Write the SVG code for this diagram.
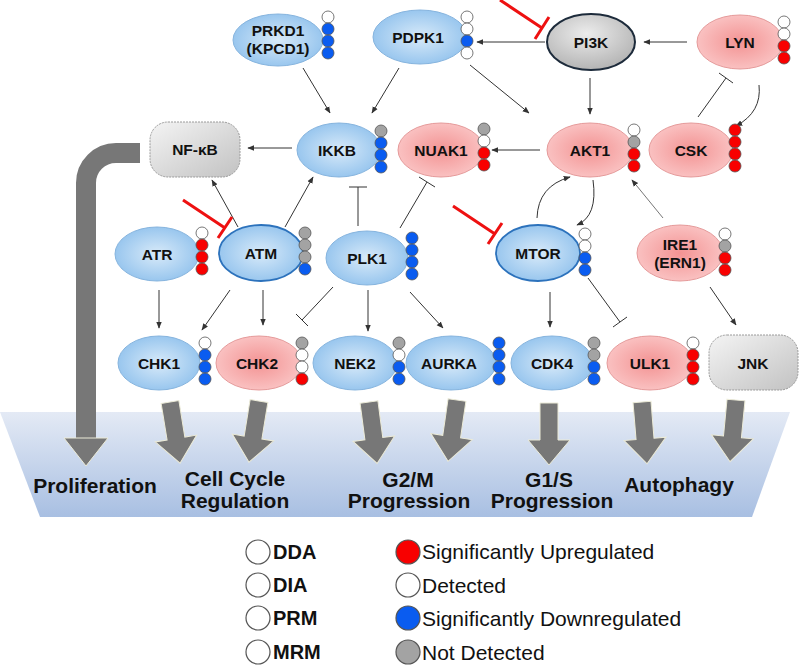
<svg xmlns="http://www.w3.org/2000/svg" xmlns:xlink="http://www.w3.org/1999/xlink" width="800" height="665" viewBox="0 0 800 665">
<defs>
<radialGradient id="gBlue" cx="50%" cy="50%" r="60%"><stop offset="0" stop-color="#d8eaf9"/><stop offset="1" stop-color="#8cbfec"/></radialGradient>
<radialGradient id="gRed" cx="50%" cy="50%" r="60%"><stop offset="0" stop-color="#f39393"/><stop offset="1" stop-color="#fbcaca"/></radialGradient>
<radialGradient id="gGray" cx="45%" cy="35%" r="65%"><stop offset="0" stop-color="#ececec"/><stop offset="1" stop-color="#b4b4b4"/></radialGradient>
<linearGradient id="gBox" x1="0" y1="0" x2="1" y2="1"><stop offset="0" stop-color="#f4f4f4"/><stop offset="1" stop-color="#c2c2c2"/></linearGradient>
<linearGradient id="gBand" x1="0" y1="0" x2="0" y2="1"><stop offset="0" stop-color="#e4eaf5"/><stop offset="1" stop-color="#a8bfe2"/></linearGradient>
<marker id="ah" viewBox="0 0 10 10" refX="9" refY="5" markerWidth="7" markerHeight="7" orient="auto" markerUnits="userSpaceOnUse"><path d="M0,1 L10,5 L0,9 Z" fill="#333"/></marker>
<path id="blk" d="M-9,0 L9,0 L9,37 L21,37 L0,62 L-21,37 L-9,37 Z"/>
</defs>
<style>
.nb{fill:url(#gBlue);stroke:#86b4de;stroke-width:1}
.nbs{fill:url(#gBlue);stroke:#2c72bc;stroke-width:1.8}
.nr{fill:url(#gRed);stroke:#e59a9a;stroke-width:1}
.box{fill:url(#gBox);stroke:#9a9a9a;stroke-width:1;stroke-dasharray:2 1}
.lbl{font-family:"Liberation Sans",Arial,sans-serif;font-weight:bold;font-size:15.5px;fill:#111;text-anchor:middle}
.d{stroke:#555;stroke-width:0.8}
.w{fill:#fff}.r{fill:#f80000}.b{fill:#0a5cf0}.g{fill:#a3a3a3}
.ar{stroke:#333;stroke-width:1;fill:none;marker-end:url(#ah)}
.inh{stroke:#333;stroke-width:1;fill:none}
.red{stroke:#ee1111;stroke-width:3;fill:none}
.blka{fill:#777;stroke:#ecebd8;stroke-width:1}
.out{font-family:"Liberation Sans",Arial,sans-serif;font-weight:bold;font-size:21px;fill:#111;text-anchor:middle}
.lg1{font-family:"Liberation Sans",Arial,sans-serif;font-weight:bold;font-size:20px;fill:#111}
.lg2{font-family:"Liberation Sans",Arial,sans-serif;font-size:21px;fill:#111}
.lc{stroke:#555;stroke-width:1.2}
</style>

<!-- band -->
<polygon points="0,412 790,412 752,517 40,517" fill="url(#gBand)"/>

<!-- proliferation arrow -->
<g id="prolif-arrow">
<path d="M140,153 H116 A30,30 0 0 0 86,183 V440" fill="none" stroke="#777" stroke-width="20"/>
<polygon points="64,438 108,438 86,466" class="blka"/>
</g>

<!-- block arrows -->
<g id="outcome-arrows">
<use xlink:href="#blk" class="blka" transform="translate(170,402) rotate(-9.3)"/>
<use xlink:href="#blk" class="blka" transform="translate(259,401) rotate(9.3)"/>
<use xlink:href="#blk" class="blka" transform="translate(369,402) rotate(-7.5)"/>
<use xlink:href="#blk" class="blka" transform="translate(457,400) rotate(8.3)"/>
<use xlink:href="#blk" class="blka" transform="translate(549,403)"/>
<use xlink:href="#blk" class="blka" transform="translate(642,402) rotate(-4.7)"/>
<use xlink:href="#blk" class="blka" transform="translate(736,400) rotate(5.5)"/>
</g>

<g id="outcome-labels">
<text class="out" x="95" y="493">Proliferation</text>
<text class="out" x="235" y="486">Cell Cycle</text>
<text class="out" x="235" y="508">Regulation</text>
<text class="out" x="408" y="487">G2/M</text>
<text class="out" x="409" y="508">Progression</text>
<text class="out" x="549" y="487">G1/S</text>
<text class="out" x="552" y="508">Progression</text>
<text class="out" x="679" y="492">Autophagy</text>
</g>

<!-- connectors -->
<g id="connectors">
<line class="ar" x1="303" y1="68" x2="330" y2="113"/>
<line class="ar" x1="399" y1="68" x2="372" y2="113"/>
<line class="ar" x1="470" y1="65" x2="529" y2="113"/>
<line class="ar" x1="545" y1="42" x2="477" y2="42"/>
<line class="ar" x1="687" y1="42" x2="644" y2="42"/>
<line class="ar" x1="590" y1="78" x2="590" y2="114"/>
<path class="ar" d="M759,85 Q762,112 736,126"/>
<line class="ar" x1="540" y1="150" x2="492" y2="150"/>
<line class="ar" x1="292" y1="148" x2="248" y2="148"/>
<line class="ar" x1="238" y1="227" x2="212" y2="180"/>
<line class="ar" x1="285" y1="227" x2="313" y2="177"/>
<path class="ar" d="M537,218 Q538,186 570,177"/>
<path class="ar" d="M593,180 Q598,216 577,225"/>
<line class="ar" x1="663" y1="218" x2="632" y2="180" style="stroke:#777"/>
<line class="ar" x1="159" y1="290" x2="159" y2="328"/>
<line class="ar" x1="230" y1="290" x2="202" y2="330"/>
<line class="ar" x1="263" y1="290" x2="263" y2="325"/>
<line class="ar" x1="368" y1="290" x2="368" y2="331"/>
<line class="ar" x1="410" y1="292" x2="443" y2="328"/>
<line class="ar" x1="550" y1="292" x2="550" y2="327"/>
<line class="ar" x1="710" y1="287" x2="736" y2="325"/>
<!-- inhibitions -->
<path class="inh" d="M698,117 L726,78 M719,73 L733,83"/>
<path class="inh" d="M358,226 L358,187 M349,187 L367,187"/>
<path class="inh" d="M400,228 L427,182 M419,177 L435,187"/>
<path class="inh" d="M333,287 L302,320 M296,314 L308,326"/>
<path class="inh" d="M588,278 L620,322 M613,327 L627,317"/>
<path class="red" d="M500,0 L542,28 M535,39 L549,17"/>
<path class="red" d="M183,200 L225,228 M218,238 L232,217"/>
<path class="red" d="M453,206 L495,234 M488,244 L502,223"/>
</g>

<!-- nodes -->
<g id="PRKD1"><ellipse class="nb" cx="278" cy="40" rx="45" ry="26"/><text class="lbl" x="278" y="36">PRKD1</text><text class="lbl" x="278" y="54">(KPCD1)</text>
<circle class="d w" cx="328" cy="17" r="6"/><circle class="d b" cx="328" cy="29" r="6"/><circle class="d b" cx="328" cy="41" r="6"/><circle class="d b" cx="328" cy="53" r="6"/></g>

<g id="PDPK1"><ellipse class="nb" cx="420" cy="37" rx="47" ry="27"/><text class="lbl" x="418" y="43">PDPK1</text>
<circle class="d w" cx="467" cy="17" r="6"/><circle class="d w" cx="467" cy="29" r="6"/><circle class="d b" cx="467" cy="41" r="6"/><circle class="d w" cx="467" cy="53" r="6"/></g>

<g id="PI3K"><ellipse cx="591" cy="42" rx="44" ry="28" fill="url(#gGray)" stroke="#1d2b3b" stroke-width="2"/><text class="lbl" x="591" y="48">PI3K</text></g>

<g id="LYN"><ellipse class="nr" cx="740" cy="42" rx="43" ry="27"/><text class="lbl" x="740" y="48">LYN</text>
<circle class="d w" cx="784" cy="22" r="6"/><circle class="d w" cx="784" cy="34" r="6"/><circle class="d r" cx="784" cy="46" r="6"/><circle class="d r" cx="784" cy="58" r="6"/></g>

<g id="NFKB"><rect class="box" x="150" y="122" width="90" height="55" rx="18"/><text class="lbl" x="195" y="155">NF-κB</text></g>

<g id="IKKB"><ellipse class="nb" cx="339" cy="150" rx="42" ry="27"/><text class="lbl" x="337" y="156">IKKB</text>
<circle class="d g" cx="381" cy="131" r="6"/><circle class="d b" cx="381" cy="143" r="6"/><circle class="d b" cx="381" cy="155" r="6"/><circle class="d b" cx="381" cy="167" r="6"/></g>

<g id="NUAK1"><ellipse class="nr" cx="441" cy="150" rx="43" ry="27"/><text class="lbl" x="441" y="156">NUAK1</text>
<circle class="d g" cx="484" cy="129" r="6"/><circle class="d w" cx="484" cy="141" r="6"/><circle class="d r" cx="484" cy="153" r="6"/><circle class="d r" cx="484" cy="165" r="6"/></g>

<g id="AKT1"><ellipse class="nr" cx="590" cy="150" rx="43" ry="27"/><text class="lbl" x="590" y="156">AKT1</text>
<circle class="d w" cx="634" cy="130" r="6"/><circle class="d g" cx="634" cy="142" r="6"/><circle class="d r" cx="634" cy="154" r="6"/><circle class="d r" cx="634" cy="166" r="6"/></g>

<g id="CSK"><ellipse class="nr" cx="691" cy="150" rx="42" ry="27"/><text class="lbl" x="691" y="156">CSK</text>
<circle class="d r" cx="735" cy="130" r="6"/><circle class="d r" cx="735" cy="142" r="6"/><circle class="d r" cx="735" cy="154" r="6"/><circle class="d r" cx="735" cy="166" r="6"/></g>

<g id="ATR"><ellipse class="nb" cx="157" cy="254" rx="42" ry="27"/><text class="lbl" x="157" y="260">ATR</text>
<circle class="d w" cx="202" cy="233" r="6"/><circle class="d r" cx="202" cy="245" r="6"/><circle class="d r" cx="202" cy="257" r="6"/><circle class="d r" cx="202" cy="269" r="6"/></g>

<g id="ATM"><ellipse class="nbs" cx="261" cy="253" rx="42" ry="28"/><text class="lbl" x="261" y="259">ATM</text>
<circle class="d g" cx="305" cy="233" r="6"/><circle class="d g" cx="305" cy="245" r="6"/><circle class="d g" cx="305" cy="257" r="6"/><circle class="d b" cx="305" cy="269" r="6"/></g>

<g id="PLK1"><ellipse class="nb" cx="367" cy="258" rx="41" ry="27"/><text class="lbl" x="367" y="264">PLK1</text>
<circle class="d b" cx="412" cy="238" r="6"/><circle class="d b" cx="412" cy="250" r="6"/><circle class="d b" cx="412" cy="262" r="6"/><circle class="d b" cx="412" cy="274" r="6"/></g>

<g id="MTOR"><ellipse class="nbs" cx="538" cy="253" rx="42" ry="28"/><text class="lbl" x="538" y="259">MTOR</text>
<circle class="d w" cx="585" cy="234" r="6"/><circle class="d w" cx="585" cy="246" r="6"/><circle class="d b" cx="585" cy="258" r="6"/><circle class="d b" cx="585" cy="270" r="6"/></g>

<g id="IRE1"><ellipse class="nr" cx="680" cy="253" rx="43" ry="28"/><text class="lbl" x="680" y="250">IRE1</text><text class="lbl" x="680" y="268">(ERN1)</text>
<circle class="d w" cx="725" cy="234" r="6"/><circle class="d g" cx="725" cy="246" r="6"/><circle class="d r" cx="725" cy="258" r="6"/><circle class="d r" cx="725" cy="270" r="6"/></g>

<g id="CHK1"><ellipse class="nb" cx="159" cy="363" rx="41" ry="27"/><text class="lbl" x="159" y="369">CHK1</text>
<circle class="d w" cx="205" cy="343" r="6"/><circle class="d b" cx="205" cy="355" r="6"/><circle class="d b" cx="205" cy="367" r="6"/><circle class="d b" cx="205" cy="379" r="6"/></g>

<g id="CHK2"><ellipse class="nr" cx="259" cy="363" rx="43" ry="27"/><text class="lbl" x="257" y="369">CHK2</text>
<circle class="d g" cx="302" cy="343" r="6"/><circle class="d w" cx="302" cy="355" r="6"/><circle class="d w" cx="302" cy="367" r="6"/><circle class="d r" cx="302" cy="379" r="6"/></g>

<g id="NEK2"><ellipse class="nb" cx="355" cy="363" rx="42" ry="27"/><text class="lbl" x="355" y="369">NEK2</text>
<circle class="d g" cx="399" cy="343" r="6"/><circle class="d w" cx="399" cy="355" r="6"/><circle class="d b" cx="399" cy="367" r="6"/><circle class="d b" cx="399" cy="379" r="6"/></g>

<g id="AURKA"><ellipse class="nb" cx="451" cy="363" rx="45" ry="27"/><text class="lbl" x="449" y="369">AURKA</text>
<circle class="d b" cx="499" cy="343" r="6"/><circle class="d b" cx="499" cy="355" r="6"/><circle class="d b" cx="499" cy="367" r="6"/><circle class="d b" cx="499" cy="379" r="6"/></g>

<g id="CDK4"><ellipse class="nb" cx="552" cy="363" rx="41" ry="27"/><text class="lbl" x="552" y="369">CDK4</text>
<circle class="d g" cx="594" cy="343" r="6"/><circle class="d g" cx="594" cy="355" r="6"/><circle class="d b" cx="594" cy="367" r="6"/><circle class="d b" cx="594" cy="379" r="6"/></g>

<g id="ULK1"><ellipse class="nr" cx="650" cy="363" rx="43" ry="27"/><text class="lbl" x="650" y="369">ULK1</text>
<circle class="d w" cx="693" cy="343" r="6"/><circle class="d r" cx="693" cy="355" r="6"/><circle class="d r" cx="693" cy="367" r="6"/><circle class="d r" cx="693" cy="379" r="6"/></g>

<g id="JNK"><rect class="box" x="709" y="335" width="89" height="55" rx="18"/><text class="lbl" x="753" y="369">JNK</text></g>

<!-- legend -->
<g id="legend">
<circle class="lc w" cx="258" cy="552" r="12"/><text class="lg1" x="273" y="559">DDA</text>
<circle class="lc w" cx="258" cy="585" r="12"/><text class="lg1" x="273" y="592">DIA</text>
<circle class="lc w" cx="258" cy="618" r="12"/><text class="lg1" x="273" y="625">PRM</text>
<circle class="lc w" cx="258" cy="652" r="12"/><text class="lg1" x="273" y="659">MRM</text>
<circle class="lc r" cx="408" cy="552" r="12"/><text class="lg2" x="422" y="559">Significantly Upregulated</text>
<circle class="lc w" cx="408" cy="585" r="12"/><text class="lg2" x="422" y="593">Detected</text>
<circle class="lc b" cx="408" cy="618" r="12"/><text class="lg2" x="422" y="626">Significantly Downregulated</text>
<circle class="lc g" cx="408" cy="652" r="12"/><text class="lg2" x="422" y="660">Not Detected</text>
</g>
</svg>
